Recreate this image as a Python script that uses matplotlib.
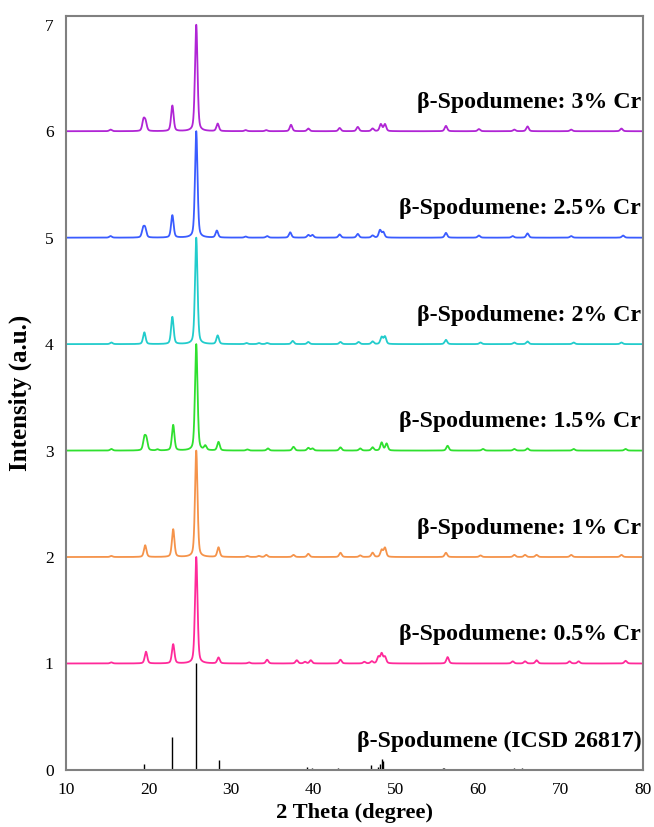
import numpy as np
import matplotlib
matplotlib.use("Agg")
import matplotlib.pyplot as plt

plt.rcParams['font.family'] = ['Liberation Serif', 'DejaVu Serif']

# ---------------- data ----------------
series_labels = ["β-Spodumene: 0.5% Cr", "β-Spodumene: 1% Cr", "β-Spodumene: 1.5% Cr",
                 "β-Spodumene: 2% Cr", "β-Spodumene: 2.5% Cr", "β-Spodumene: 3% Cr"]
series_colors = ["#ff2a9a", "#f5934a", "#2fe02f", "#22cccc", "#3a5cff", "#b025d5"]
series_offsets = [1, 2, 3, 4, 5, 6]

# peak centres (2θ), normalised heights for each measured pattern
peaks_05_pos = [15.5, 19.7, 23.0, 25.8, 28.5, 32.2, 34.4, 38.0, 39.0, 39.7, 43.3, 46.2, 47.1, 47.9, 48.3, 48.7, 56.3, 64.2, 65.7, 67.1, 71.1, 72.2, 77.9]
peaks_05_h   = [0.01, 0.11, 0.18, 1.00, 0.055, 0.01, 0.035, 0.03, 0.015, 0.03, 0.035, 0.015, 0.02, 0.06, 0.09, 0.06, 0.06, 0.02, 0.02, 0.03, 0.02, 0.02, 0.025]
peaks_1_pos  = [15.5, 19.6, 23.0, 25.8, 28.5, 32.0, 33.4, 34.3, 37.6, 39.4, 43.3, 45.7, 47.2, 48.3, 48.7, 56.1, 60.3, 64.4, 65.7, 67.1, 71.3, 77.4]
peaks_1_h    = [0.01, 0.11, 0.26, 1.00, 0.09, 0.01, 0.01, 0.02, 0.02, 0.03, 0.04, 0.015, 0.04, 0.065, 0.085, 0.04, 0.015, 0.02, 0.02, 0.02, 0.02, 0.02]
peaks_15_pos = [15.5, 19.5, 19.75, 21.1, 23.0, 25.8, 26.9, 28.5, 32.0, 34.5, 37.6, 39.4, 39.9, 43.3, 45.7, 47.2, 48.3, 48.9, 56.3, 60.6, 64.4, 66.0, 71.6, 77.9]
peaks_15_h   = [0.015, 0.11, 0.10, 0.01, 0.24, 1.00, 0.04, 0.08, 0.01, 0.02, 0.035, 0.025, 0.02, 0.03, 0.02, 0.03, 0.075, 0.065, 0.045, 0.015, 0.015, 0.02, 0.015, 0.015]
peaks_2_pos  = [15.5, 19.5, 22.9, 25.8, 28.4, 31.9, 33.4, 34.4, 37.5, 39.4, 43.3, 45.5, 47.2, 48.3, 48.7, 56.1, 60.3, 64.4, 66.0, 71.6, 77.4]
peaks_2_h    = [0.015, 0.11, 0.255, 1.00, 0.08, 0.01, 0.01, 0.01, 0.03, 0.02, 0.02, 0.02, 0.025, 0.065, 0.07, 0.04, 0.015, 0.015, 0.025, 0.015, 0.015]
peaks_25_pos = [15.4, 19.35, 19.6, 22.9, 25.8, 28.3, 31.8, 34.4, 37.2, 39.4, 39.9, 43.2, 45.4, 47.2, 48.1, 48.5, 56.1, 60.1, 64.2, 66.0, 71.3, 77.6]
peaks_25_h   = [0.015, 0.08, 0.08, 0.21, 1.00, 0.065, 0.01, 0.015, 0.05, 0.025, 0.025, 0.03, 0.035, 0.02, 0.07, 0.05, 0.045, 0.02, 0.015, 0.04, 0.015, 0.02]
peaks_3_pos  = [15.4, 19.4, 19.65, 22.9, 25.8, 28.4, 31.8, 34.3, 37.3, 39.4, 43.2, 45.4, 47.2, 48.2, 48.7, 56.1, 60.1, 64.4, 66.0, 71.3, 77.4]
peaks_3_h    = [0.015, 0.10, 0.08, 0.24, 1.00, 0.07, 0.01, 0.01, 0.06, 0.025, 0.03, 0.04, 0.025, 0.065, 0.065, 0.05, 0.02, 0.015, 0.045, 0.015, 0.025]
peak_width = 0.36

# reference stick pattern ICSD 26817
icsd_pos = [15.4, 16.8, 19.4, 22.9, 25.8, 28.5, 33.1, 34.0, 37.9, 39.3, 39.8, 41.3, 43.0, 43.3, 47.0, 47.9, 48.1, 48.3, 48.5,
            50.0, 53.0, 53.5, 53.8, 55.7, 55.9, 57.3, 59.9, 62.5, 63.3, 64.3, 64.8, 65.3, 66.2, 67.2, 67.8]
icsd_h   = [0.01, 0.01, 0.06, 0.31, 1.00, 0.09, 0.01, 0.01, 0.01, 0.03, 0.02, 0.01, 0.02, 0.01, 0.05, 0.03, 0.06, 0.10, 0.08,
            0.01, 0.01, 0.01, 0.01, 0.02, 0.015, 0.01, 0.01, 0.01, 0.01, 0.015, 0.01, 0.015, 0.01, 0.01, 0.01]
icsd_label = "β-Spodumene (ICSD 26817)"

x_ticks = [10, 20, 30, 40, 50, 60, 70, 80]
y_ticks = [0, 1, 2, 3, 4, 5, 6, 7]

all_pos = [peaks_05_pos, peaks_1_pos, peaks_15_pos, peaks_2_pos, peaks_25_pos, peaks_3_pos]
all_h = [peaks_05_h, peaks_1_h, peaks_15_h, peaks_2_h, peaks_25_h, peaks_3_h]

# ---------------- plotting ----------------
fig = plt.figure(figsize=(6.54, 8.27), dpi=100)
ax = fig.add_axes([0.101, 0.069, 0.882, 0.912])

theta = np.linspace(10, 80, 4000)

def profile(pos, h, w):
    y = np.zeros_like(theta)
    for p, a in zip(pos, h):
        g = np.exp(-4 * np.log(2) * ((theta - p) / w) ** 2)
        l = 1.0 / (1 + 4 * ((theta - p) / w) ** 2)
        y += a * (0.6 * g + 0.4 * l)
    return y

for pos, h, off, col, lab in zip(all_pos, all_h, series_offsets, series_colors, series_labels):
    y = profile(pos, h, peak_width)
    y = y / y.max()
    ax.plot(theta, y + off, color=col, lw=1.3)
    ax.text(79.8, off + 0.27, lab, ha='right', va='center', fontsize=17.2, fontweight='bold')

ax.vlines(icsd_pos, 0, icsd_h, color='black', lw=1.0)
ax.text(79.8, 0.27, icsd_label, ha='right', va='center', fontsize=17.2, fontweight='bold')

ax.set_xlim(10, 80)
ax.set_ylim(0, 7.085)
ax.set_xticks(x_ticks)
ax.set_yticks(y_ticks)
ax.tick_params(axis='x', length=0, labelsize=12.5, pad=9)
ax.tick_params(axis='y', length=0, labelsize=12.5, pad=9)
for s in ax.spines.values():
    s.set_color('#808080')
    s.set_linewidth(1.5)

ax.set_xlabel("2 Theta (degree)", fontsize=16.2, fontweight='bold', labelpad=3)
ax.set_ylabel("Intensity (a.u.)", fontsize=18, fontweight='bold', labelpad=9)

fig.savefig("out.png", dpi=100)
